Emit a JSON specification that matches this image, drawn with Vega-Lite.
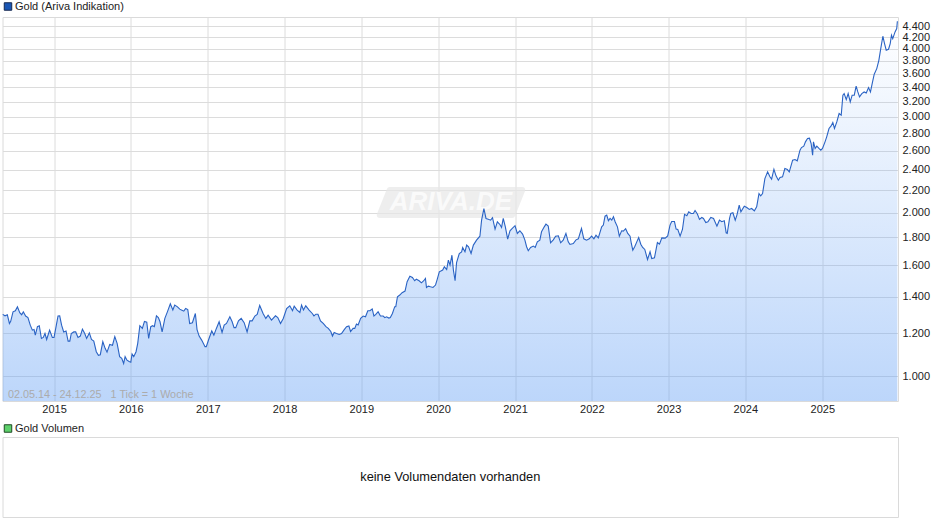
{
  "$schema": "https://vega.github.io/schema/vega-lite/v6.json",
  "background": "white",
  "padding": {"left": -2.5, "top": 0, "right": 0, "bottom": 0},
  "bounds": "flush",
  "spacing": 36,
  "config": {
    "font": "Liberation Sans",
    "view": {"stroke": "#dadada", "strokeWidth": 1},
    "axis": {"labelFont": "Liberation Sans", "labelFontSize": 11, "labelColor": "#222222", "title": null, "domain": false, "ticks": false, "gridColor": "#dcdcdc", "gridWidth": 1, "gridOpacity": 1},
    "legend": {"labelFont": "Liberation Sans", "labelFontSize": 11, "labelColor": "#222222", "title": null, "orient": "none", "symbolType": "square", "symbolSize": 56, "labelOffset": 1.5, "padding": 0}
  },
  "datasets": {
    "gold": [
      {"date":"2014-05-02","value":1300},{"date":"2014-05-13","value":1292},{"date":"2014-05-24","value":1298},{"date":"2014-06-03","value":1251},{"date":"2014-06-09","value":1262},{"date":"2014-06-20","value":1314},{"date":"2014-07-01","value":1320},{"date":"2014-07-11","value":1342},{"date":"2014-07-22","value":1309},{"date":"2014-07-31","value":1298},{"date":"2014-08-08","value":1314},{"date":"2014-08-19","value":1291},{"date":"2014-08-30","value":1283},{"date":"2014-09-10","value":1242},{"date":"2014-09-20","value":1216},{"date":"2014-09-28","value":1219},{"date":"2014-10-04","value":1191},{"date":"2014-10-14","value":1234},{"date":"2014-10-23","value":1239},{"date":"2014-11-02","value":1174},{"date":"2014-11-11","value":1179},{"date":"2014-11-19","value":1199},{"date":"2014-11-27","value":1169},{"date":"2014-12-11","value":1216},{"date":"2014-12-24","value":1179},
      {"date":"2015-01-01","value":1179},{"date":"2015-01-12","value":1242},{"date":"2015-01-20","value":1291},{"date":"2015-01-28","value":1292},{"date":"2015-02-06","value":1242},{"date":"2015-02-16","value":1207},{"date":"2015-02-27","value":1212},{"date":"2015-03-09","value":1161},{"date":"2015-03-17","value":1161},{"date":"2015-03-24","value":1199},{"date":"2015-04-05","value":1207},{"date":"2015-04-14","value":1207},{"date":"2015-04-25","value":1179},{"date":"2015-05-06","value":1186},{"date":"2015-05-16","value":1221},{"date":"2015-05-27","value":1199},{"date":"2015-06-05","value":1174},{"date":"2015-06-18","value":1202},{"date":"2015-06-28","value":1169},{"date":"2015-07-09","value":1161},{"date":"2015-07-21","value":1110},{"date":"2015-07-31","value":1093},{"date":"2015-08-09","value":1096},{"date":"2015-08-21","value":1158},{"date":"2015-09-01","value":1126},{"date":"2015-09-10","value":1108},{"date":"2015-09-23","value":1145},{"date":"2015-10-06","value":1141},{"date":"2015-10-17","value":1183},{"date":"2015-10-28","value":1150},{"date":"2015-11-09","value":1087},{"date":"2015-11-19","value":1079},{"date":"2015-11-28","value":1056},{"date":"2015-12-05","value":1087},{"date":"2015-12-14","value":1071},{"date":"2015-12-24","value":1065},
      {"date":"2016-01-01","value":1062},{"date":"2016-01-07","value":1099},{"date":"2016-01-15","value":1087},{"date":"2016-01-26","value":1110},{"date":"2016-02-03","value":1150},{"date":"2016-02-13","value":1239},{"date":"2016-02-25","value":1225},{"date":"2016-03-06","value":1262},{"date":"2016-03-17","value":1258},{"date":"2016-03-26","value":1174},{"date":"2016-04-05","value":1234},{"date":"2016-04-14","value":1239},{"date":"2016-04-22","value":1234},{"date":"2016-05-02","value":1292},{"date":"2016-05-11","value":1283},{"date":"2016-05-19","value":1260},{"date":"2016-05-29","value":1207},{"date":"2016-06-11","value":1278},{"date":"2016-06-23","value":1314},{"date":"2016-07-07","value":1360},{"date":"2016-07-19","value":1324},{"date":"2016-07-28","value":1352},{"date":"2016-08-10","value":1342},{"date":"2016-08-21","value":1329},{"date":"2016-08-29","value":1324},{"date":"2016-09-09","value":1318},{"date":"2016-09-18","value":1333},{"date":"2016-09-28","value":1327},{"date":"2016-10-07","value":1251},{"date":"2016-10-20","value":1255},{"date":"2016-11-03","value":1305},{"date":"2016-11-11","value":1219},{"date":"2016-11-21","value":1186},{"date":"2016-12-03","value":1166},{"date":"2016-12-19","value":1134},{"date":"2016-12-25","value":1134},
      {"date":"2017-01-07","value":1174},{"date":"2017-01-20","value":1212},{"date":"2017-01-30","value":1191},{"date":"2017-02-11","value":1225},{"date":"2017-02-24","value":1260},{"date":"2017-03-10","value":1204},{"date":"2017-03-20","value":1242},{"date":"2017-03-31","value":1251},{"date":"2017-04-16","value":1287},{"date":"2017-04-27","value":1260},{"date":"2017-05-06","value":1229},{"date":"2017-05-14","value":1229},{"date":"2017-05-27","value":1265},{"date":"2017-06-09","value":1278},{"date":"2017-06-23","value":1255},{"date":"2017-07-07","value":1207},{"date":"2017-07-20","value":1265},{"date":"2017-07-31","value":1265},{"date":"2017-08-13","value":1291},{"date":"2017-08-24","value":1300},{"date":"2017-09-05","value":1350},{"date":"2017-09-21","value":1305},{"date":"2017-10-04","value":1278},{"date":"2017-10-15","value":1296},{"date":"2017-10-31","value":1269},{"date":"2017-11-19","value":1292},{"date":"2017-11-30","value":1283},{"date":"2017-12-13","value":1251},{"date":"2017-12-26","value":1278},
      {"date":"2018-01-11","value":1333},{"date":"2018-01-26","value":1348},{"date":"2018-02-08","value":1320},{"date":"2018-02-16","value":1346},{"date":"2018-03-02","value":1324},{"date":"2018-03-15","value":1311},{"date":"2018-03-23","value":1352},{"date":"2018-04-01","value":1324},{"date":"2018-04-12","value":1348},{"date":"2018-04-28","value":1324},{"date":"2018-05-13","value":1305},{"date":"2018-05-21","value":1292},{"date":"2018-05-30","value":1301},{"date":"2018-06-09","value":1301},{"date":"2018-06-21","value":1265},{"date":"2018-07-04","value":1251},{"date":"2018-07-17","value":1234},{"date":"2018-07-28","value":1225},{"date":"2018-08-09","value":1209},{"date":"2018-08-17","value":1186},{"date":"2018-08-25","value":1204},{"date":"2018-09-05","value":1199},{"date":"2018-09-18","value":1194},{"date":"2018-09-29","value":1199},{"date":"2018-10-12","value":1219},{"date":"2018-10-23","value":1234},{"date":"2018-11-03","value":1238},{"date":"2018-11-11","value":1209},{"date":"2018-11-23","value":1225},{"date":"2018-12-01","value":1225},{"date":"2018-12-09","value":1248},{"date":"2018-12-17","value":1243},{"date":"2018-12-29","value":1278},
      {"date":"2019-01-10","value":1291},{"date":"2019-01-21","value":1287},{"date":"2019-02-01","value":1320},{"date":"2019-02-11","value":1320},{"date":"2019-02-22","value":1330},{"date":"2019-03-02","value":1291},{"date":"2019-03-11","value":1300},{"date":"2019-03-22","value":1315},{"date":"2019-04-02","value":1291},{"date":"2019-04-15","value":1291},{"date":"2019-04-23","value":1282},{"date":"2019-05-01","value":1287},{"date":"2019-05-12","value":1280},{"date":"2019-05-19","value":1283},{"date":"2019-05-29","value":1305},{"date":"2019-06-09","value":1343},{"date":"2019-06-14","value":1343},{"date":"2019-06-22","value":1401},{"date":"2019-07-03","value":1411},{"date":"2019-07-14","value":1425},{"date":"2019-07-28","value":1435},{"date":"2019-08-07","value":1493},{"date":"2019-08-20","value":1528},{"date":"2019-09-01","value":1520},{"date":"2019-09-12","value":1499},{"date":"2019-09-20","value":1509},{"date":"2019-10-03","value":1499},{"date":"2019-10-14","value":1486},{"date":"2019-10-25","value":1499},{"date":"2019-11-02","value":1514},{"date":"2019-11-07","value":1457},{"date":"2019-11-16","value":1465},{"date":"2019-11-26","value":1461},{"date":"2019-12-08","value":1457},{"date":"2019-12-20","value":1472},{"date":"2019-12-27","value":1503},
      {"date":"2020-01-07","value":1557},{"date":"2020-01-23","value":1568},{"date":"2020-01-31","value":1590},{"date":"2020-02-11","value":1572},{"date":"2020-02-19","value":1636},{"date":"2020-02-27","value":1601},{"date":"2020-03-07","value":1670},{"date":"2020-03-14","value":1568},{"date":"2020-03-22","value":1499},{"date":"2020-03-29","value":1618},{"date":"2020-04-11","value":1682},{"date":"2020-04-22","value":1694},{"date":"2020-04-27","value":1725},{"date":"2020-05-08","value":1694},{"date":"2020-05-16","value":1743},{"date":"2020-05-25","value":1731},{"date":"2020-06-06","value":1682},{"date":"2020-06-17","value":1743},{"date":"2020-07-02","value":1780},{"date":"2020-07-18","value":1810},{"date":"2020-07-26","value":1937},{"date":"2020-08-06","value":2035},{"date":"2020-08-16","value":1951},{"date":"2020-08-27","value":1944},{"date":"2020-09-07","value":1937},{"date":"2020-09-16","value":1957},{"date":"2020-09-28","value":1865},{"date":"2020-10-09","value":1924},{"date":"2020-10-21","value":1902},{"date":"2020-10-29","value":1878},{"date":"2020-11-06","value":1951},{"date":"2020-11-16","value":1883},{"date":"2020-11-27","value":1787},{"date":"2020-12-08","value":1852},{"date":"2020-12-19","value":1870},
      {"date":"2021-01-01","value":1892},{"date":"2021-01-12","value":1831},{"date":"2021-01-24","value":1852},{"date":"2021-02-06","value":1826},{"date":"2021-02-17","value":1780},{"date":"2021-02-25","value":1731},{"date":"2021-03-05","value":1702},{"date":"2021-03-16","value":1726},{"date":"2021-03-29","value":1736},{"date":"2021-04-07","value":1726},{"date":"2021-04-17","value":1767},{"date":"2021-04-29","value":1780},{"date":"2021-05-07","value":1844},{"date":"2021-05-20","value":1883},{"date":"2021-05-28","value":1905},{"date":"2021-06-08","value":1889},{"date":"2021-06-19","value":1760},{"date":"2021-07-02","value":1782},{"date":"2021-07-13","value":1810},{"date":"2021-07-26","value":1813},{"date":"2021-08-06","value":1760},{"date":"2021-08-18","value":1780},{"date":"2021-08-31","value":1831},{"date":"2021-09-11","value":1767},{"date":"2021-09-19","value":1748},{"date":"2021-10-05","value":1755},{"date":"2021-10-18","value":1782},{"date":"2021-10-29","value":1790},{"date":"2021-11-13","value":1870},{"date":"2021-11-24","value":1790},{"date":"2021-12-07","value":1780},{"date":"2021-12-20","value":1790},{"date":"2021-12-31","value":1810},
      {"date":"2022-01-11","value":1790},{"date":"2022-01-21","value":1818},{"date":"2022-02-01","value":1797},{"date":"2022-02-17","value":1883},{"date":"2022-02-25","value":1897},{"date":"2022-03-05","value":1970},{"date":"2022-03-13","value":1979},{"date":"2022-03-21","value":1932},{"date":"2022-03-29","value":1951},{"date":"2022-04-06","value":1937},{"date":"2022-04-14","value":1965},{"date":"2022-04-22","value":1924},{"date":"2022-05-03","value":1883},{"date":"2022-05-12","value":1810},{"date":"2022-05-23","value":1852},{"date":"2022-05-31","value":1849},{"date":"2022-06-11","value":1868},{"date":"2022-06-21","value":1831},{"date":"2022-07-02","value":1810},{"date":"2022-07-08","value":1755},{"date":"2022-07-15","value":1706},{"date":"2022-07-24","value":1731},{"date":"2022-08-03","value":1767},{"date":"2022-08-12","value":1800},{"date":"2022-08-22","value":1750},{"date":"2022-08-31","value":1726},{"date":"2022-09-10","value":1711},{"date":"2022-09-23","value":1640},{"date":"2022-10-05","value":1694},{"date":"2022-10-13","value":1647},{"date":"2022-10-26","value":1652},{"date":"2022-11-09","value":1762},{"date":"2022-11-19","value":1750},{"date":"2022-11-30","value":1797},{"date":"2022-12-16","value":1795},{"date":"2022-12-28","value":1812},
      {"date":"2023-01-08","value":1897},{"date":"2023-01-16","value":1926},{"date":"2023-01-29","value":1926},{"date":"2023-02-06","value":1865},{"date":"2023-02-14","value":1862},{"date":"2023-02-25","value":1810},{"date":"2023-03-08","value":1862},{"date":"2023-03-18","value":1985},{"date":"2023-03-29","value":1974},{"date":"2023-04-07","value":2007},{"date":"2023-04-18","value":1993},{"date":"2023-04-29","value":1993},{"date":"2023-05-07","value":2018},{"date":"2023-05-18","value":1988},{"date":"2023-05-28","value":1943},{"date":"2023-06-08","value":1959},{"date":"2023-06-16","value":1951},{"date":"2023-06-27","value":1918},{"date":"2023-07-07","value":1924},{"date":"2023-07-21","value":1959},{"date":"2023-08-03","value":1951},{"date":"2023-08-19","value":1888},{"date":"2023-08-31","value":1937},{"date":"2023-09-11","value":1924},{"date":"2023-09-23","value":1932},{"date":"2023-10-02","value":1836},{"date":"2023-10-07","value":1831},{"date":"2023-10-18","value":1951},{"date":"2023-10-24","value":1993},{"date":"2023-11-03","value":1999},{"date":"2023-11-14","value":1937},{"date":"2023-11-22","value":1979},{"date":"2023-12-03","value":2064},{"date":"2023-12-11","value":2007},{"date":"2023-12-27","value":2055},
      {"date":"2024-01-08","value":2043},{"date":"2024-01-20","value":2027},{"date":"2024-01-31","value":2035},{"date":"2024-02-13","value":2015},{"date":"2024-02-24","value":2049},{"date":"2024-03-06","value":2168},{"date":"2024-03-14","value":2147},{"date":"2024-03-23","value":2168},{"date":"2024-04-03","value":2310},{"date":"2024-04-16","value":2377},{"date":"2024-04-27","value":2327},{"date":"2024-05-05","value":2304},{"date":"2024-05-16","value":2403},{"date":"2024-05-26","value":2337},{"date":"2024-06-06","value":2294},{"date":"2024-06-14","value":2320},{"date":"2024-06-26","value":2327},{"date":"2024-07-07","value":2410},{"date":"2024-07-19","value":2400},{"date":"2024-07-28","value":2377},{"date":"2024-08-13","value":2497},{"date":"2024-08-24","value":2504},{"date":"2024-09-04","value":2490},{"date":"2024-09-17","value":2605},{"date":"2024-09-24","value":2634},{"date":"2024-10-05","value":2649},{"date":"2024-10-13","value":2698},{"date":"2024-10-23","value":2736},{"date":"2024-11-01","value":2740},{"date":"2024-11-09","value":2679},{"date":"2024-11-16","value":2550},{"date":"2024-11-20","value":2698},{"date":"2024-11-28","value":2624},{"date":"2024-12-06","value":2649},{"date":"2024-12-16","value":2624},{"date":"2024-12-25","value":2605},
      {"date":"2025-01-02","value":2624},{"date":"2025-01-14","value":2698},{"date":"2025-01-22","value":2756},{"date":"2025-02-02","value":2855},{"date":"2025-02-12","value":2887},{"date":"2025-02-20","value":2928},{"date":"2025-02-28","value":2855},{"date":"2025-03-11","value":2936},{"date":"2025-03-22","value":3042},{"date":"2025-04-01","value":3020},{"date":"2025-04-09","value":3287},{"date":"2025-04-15","value":3310},{"date":"2025-04-25","value":3227},{"date":"2025-05-04","value":3310},{"date":"2025-05-14","value":3195},{"date":"2025-05-23","value":3287},{"date":"2025-06-02","value":3287},{"date":"2025-06-11","value":3415},{"date":"2025-06-19","value":3333},{"date":"2025-06-27","value":3264},{"date":"2025-07-08","value":3310},{"date":"2025-07-19","value":3333},{"date":"2025-07-29","value":3319},{"date":"2025-08-09","value":3395},{"date":"2025-08-18","value":3333},{"date":"2025-08-28","value":3478},{"date":"2025-09-05","value":3592},{"date":"2025-09-17","value":3679},{"date":"2025-09-27","value":3811},{"date":"2025-10-06","value":4005},{"date":"2025-10-16","value":4219},{"date":"2025-10-24","value":4090},{"date":"2025-11-01","value":3976},{"date":"2025-11-12","value":3993},{"date":"2025-11-20","value":4090},{"date":"2025-11-26","value":4237},{"date":"2025-12-02","value":4177},{"date":"2025-12-13","value":4297},{"date":"2025-12-21","value":4358},{"date":"2025-12-24","value":4495}
    ],
    "logoShape": [
      {"date":"2019-03-30","value":1980,"low":1980},
      {"date":"2019-05-16","value":2200,"low":1980},
      {"date":"2020-12-19","value":2200,"low":1980},
      {"date":"2021-02-04","value":2200,"low":2200}
    ]
  },
  "resolve": {"scale": {"color": "independent"}, "legend": {"color": "independent"}},
  "vconcat": [
    {
      "width": 895.5,
      "height": 384,
      "encoding": {
        "x": {
          "field": "date",
          "type": "temporal",
          "scale": {"type": "utc", "domain": ["2014-05-01", "2025-12-27"]},
          "axis": {"orient": "bottom", "format": "%Y", "tickCount": {"interval": "year", "step": 1}, "labelPadding": 2, "labelFlush": false}
        },
        "y": {
          "field": "value",
          "type": "quantitative",
          "scale": {"type": "log", "domain": [901, 4577], "nice": false},
          "axis": {
            "orient": "right",
            "values": [1000, 1200, 1400, 1600, 1800, 2000, 2200, 2400, 2600, 2800, 3000, 3200, 3400, 3600, 3800, 4000, 4200, 4400],
            "labelExpr": "replace(format(datum.value, ','), ',', '.')",
            "labelPadding": 4,
            "labelOverlap": false
          }
        }
      },
      "layer": [
        {
          "data": {"name": "logoShape"},
          "mark": {"type": "area", "color": "#e8e8e8", "stroke": "#e8e8e8", "strokeWidth": 6, "strokeJoin": "round", "opacity": 0.7},
          "encoding": {"y2": {"field": "low"}}
        },
        {
          "data": {"values": [{"date": "2020-03-02", "value": 2090, "logo": "ARIVA.DE"}]},
          "mark": {"type": "text", "font": "Liberation Sans", "fontStyle": "italic", "fontWeight": "bold", "fontSize": 26, "color": "white", "opacity": 0.75},
          "encoding": {"text": {"field": "logo"}}
        },
        {
          "data": {"name": "gold"},
          "mark": {
            "type": "area",
            "color": {
              "gradient": "linear",
              "x1": 1, "x2": 1, "y1": 1, "y2": 0,
              "stops": [
                {"offset": 0, "color": "rgba(100,160,245,0.43)"},
                {"offset": 1, "color": "rgba(100,160,245,0)"}
              ]
            }
          },
          "encoding": {"y2": {"datum": 901}}
        },
        {
          "data": {"name": "gold"},
          "mark": {"type": "line", "strokeWidth": 1.1, "color": "#2a63c4"}
        },
        {
          "data": {"values": [{"date": "2014-05-02", "value": 1300}]},
          "mark": {"type": "line"},
          "encoding": {
            "color": {
              "datum": "Gold (Ariva Indikation)",
              "scale": {"range": ["#16284f"]},
              "legend": {
                "legendX": 0,
                "legendY": -16,
                "encoding": {"symbols": {"fill": {"value": "#1a56b4"}, "strokeWidth": {"value": 1}}}
              }
            }
          }
        },
        {
          "data": {"values": [{"date": "2014-05-27", "value": 924, "range": "02.05.14 - 24.12.25\u00a0\u00a0\u00a01 Tick = 1 Woche"}]},
          "mark": {"type": "text", "align": "left", "baseline": "middle", "fontSize": 10.8, "color": "#ababab"},
          "encoding": {"text": {"field": "range"}}
        }
      ]
    },
    {
      "width": 895.5,
      "height": 80,
      "view": {"stroke": "#dadada", "strokeWidth": 1},
      "data": {"values": [{"series": "Gold Volumen", "message": "keine Volumendaten vorhanden"}]},
      "layer": [
        {
          "mark": {"type": "line"},
          "encoding": {
            "color": {
              "field": "series",
              "scale": {"range": ["#1f4a25"]},
              "legend": {
                "legendX": 0,
                "legendY": -14,
                "encoding": {"symbols": {"fill": {"value": "#5dd16b"}, "strokeWidth": {"value": 1}}}
              }
            }
          }
        },
        {
          "mark": {"type": "text", "fontSize": 12.8, "baseline": "middle", "color": "#111111"},
          "encoding": {"text": {"field": "message"}}
        }
      ]
    }
  ]
}
